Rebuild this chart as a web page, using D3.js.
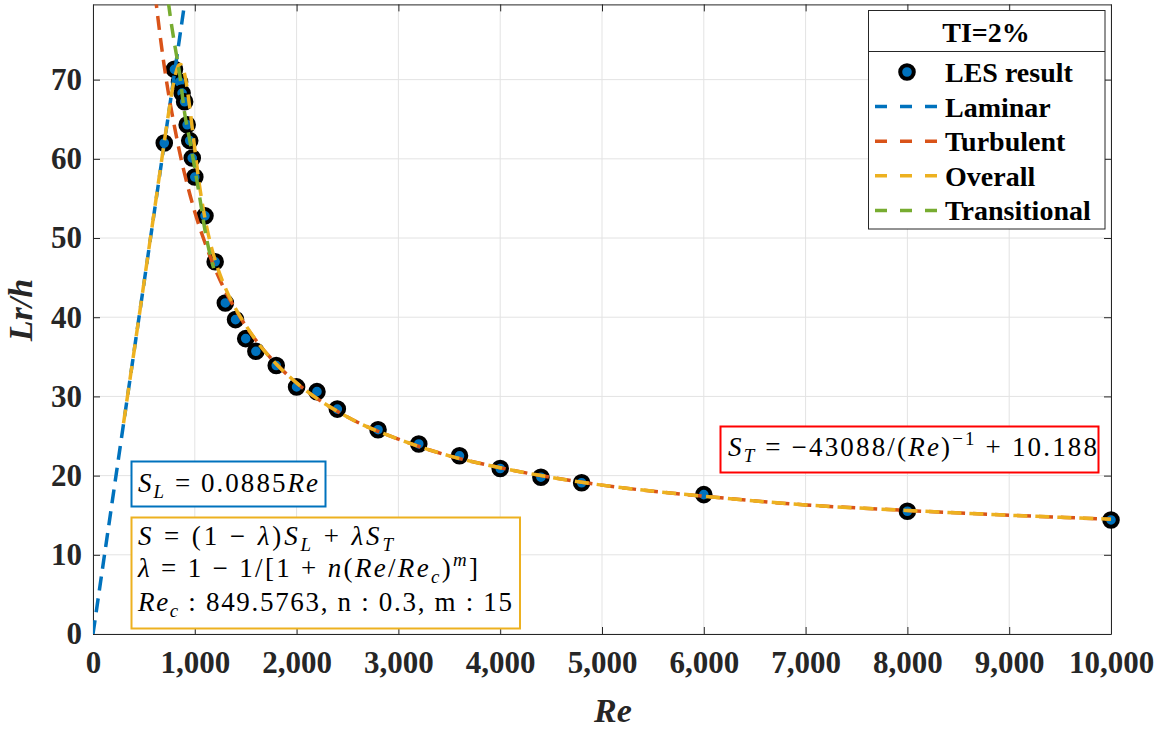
<!DOCTYPE html>
<html>
<head>
<meta charset="utf-8">
<script src="https://cdn.jsdelivr.net/npm/d3@7"></script>
<style>
body{margin:0;background:#fff}
text{white-space:pre}
</style>
</head>
<body>
<script>
// LES result points
var lesRe = [700, 800, 850, 875, 900, 925, 950, 975, 1000, 1100, 1200, 1300, 1400, 1500, 1600, 1800,
             2000, 2200, 2400, 2800, 3200, 3600, 4000, 4400, 4800, 6000, 8000, 10000];
var lesLr = [62.0, 71.3, 69.7, 68.3, 67.2, 64.3, 62.3, 60.1, 57.7, 52.8, 47.0, 41.8, 39.7, 37.3, 35.7, 33.9,
             31.2, 30.6, 28.4, 25.8, 24.0, 22.5, 20.9, 19.8, 19.1, 17.6, 15.5, 14.4];

// fitted curves
var lamRe = [0, 920];
var lamLr = [0, 81.4];

var turbRe = [610, 650, 700, 750, 800, 850, 900, 1000, 1100, 1200, 1300, 1400, 1500, 1600, 1800,
              2000, 2500, 3000, 3500, 4000, 5000, 6000, 7000, 8000, 9000, 10000];
var turbLr = [80.8, 76.5, 71.7, 67.6, 64.1, 60.9, 58.1, 53.3, 49.4, 46.1, 43.3, 41.0, 38.9, 37.1, 34.1,
              31.7, 27.4, 24.6, 22.5, 21.0, 18.8, 17.4, 16.3, 15.6, 15.0, 14.5];

var allRe = [300, 400, 600, 700, 750, 780, 800, 820, 840, 860, 880, 900, 925, 950, 975, 1000,
             1050, 1100, 1150, 1200, 1300, 1400, 1500, 1600, 1800, 2000, 2500, 3000, 3500, 4000,
             5000, 6000, 7000, 8000, 9000, 10000];
var allLr = [26.6, 35.4, 53.2, 62.1, 66.4, 68.8, 70.1, 71.1, 71.8, 71.9, 71.6, 70.7, 68.9, 66.5, 63.9, 61.2,
             56.3, 52.5, 49.5, 47.2, 43.7, 41.1, 39.0, 37.1, 34.1, 31.7, 27.4, 24.6, 22.5, 21.0,
             18.8, 17.4, 16.3, 15.6, 15.0, 14.5];

var transRe = [740, 760, 800, 850, 900, 950, 1000, 1050, 1100, 1150, 1185];
var transLr = [79.8, 77.9, 74.6, 70.8, 65.8, 62.4, 58.8, 55.0, 51.0, 47.9, 46.2];

var xTicks = [0, 1000, 2000, 3000, 4000, 5000, 6000, 7000, 8000, 9000, 10000];
var yTicks = [0, 10, 20, 30, 40, 50, 60, 70];

var legendTitle = "TI=2%";
var legendNames = ["LES result", "Laminar", "Turbulent", "Overall", "Transitional"];

// equation boxes: [text, style] where i = italic, _ = subscript, ^ = superscript
var eqLaminar = [["S","i"],["L","i_"],[" = 0.0885"],["Re","i"]];
var eqTurb = [["S","i"],["T","i_"],[" = \u221243088/("],["Re","i"],[")"],["\u22121","^"],[" + 10.188"]];
var eqAll = [
  [["S","i"],[" = (1 \u2212 "],["\u03bb","i"],[")"],["S","i"],["L","i_"],[" + "],["\u03bb","i"],["S","i"],["T","i_"]],
  [["\u03bb","i"],[" = 1 \u2212 1/[1 + "],["n","i"],["("],["Re","i"],["/"],["Re","i"],["c","i_"],[")"],["m","i^"],["]"]],
  [["Re","i"],["c","i_"],[" : 849.5763, n : 0.3, m : 15"]]
];

var cBlue = "#0072BD", cOrange = "#D95319", cYellow = "#EDB120", cGreen = "#77AC30";
var font = "'Liberation Serif', 'Times New Roman', serif";

var width = 1164, height = 730;
var svg = d3.select("body").append("svg")
    .attr("width", width).attr("height", height)
    .style("background", "#fff");

var x = d3.scaleLinear().domain([0, 10000]).range([93, 1111]);
var y = d3.scaleLinear().domain([0, 79.5]).range([634, 4.4]);

// grid
svg.append("g").selectAll("line").data(xTicks).enter().append("line")
    .attr("x1", function(d){ return x(d); }).attr("x2", function(d){ return x(d); })
    .attr("y1", y(0)).attr("y2", y(79.5))
    .attr("stroke", "#e3e3e3").attr("stroke-width", 1);
svg.append("g").selectAll("line").data(yTicks).enter().append("line")
    .attr("y1", function(d){ return y(d); }).attr("y2", function(d){ return y(d); })
    .attr("x1", x(0)).attr("x2", x(10000))
    .attr("stroke", "#e3e3e3").attr("stroke-width", 1);

// axes (ticks inside, box on)
function styleAxis(g) {
  g.select(".domain").attr("stroke", "#262626");
  g.selectAll(".tick line").attr("stroke", "#262626");
  g.selectAll("text").attr("fill", "#262626")
    .style("font-family", font).style("font-weight", "bold").style("font-size", "31px");
}
svg.append("g").attr("transform", "translate(0," + y(0) + ")")
    .call(d3.axisBottom(x).tickValues(xTicks).tickSize(-7).tickSizeOuter(0).tickPadding(17).tickFormat(d3.format(",")))
    .call(styleAxis);
svg.append("g").attr("transform", "translate(" + x(0) + ",0)")
    .call(d3.axisLeft(y).tickValues(yTicks).tickSize(-7).tickSizeOuter(0).tickPadding(11))
    .call(styleAxis);
svg.append("g").attr("transform", "translate(0," + y(79.5) + ")")
    .call(d3.axisTop(x).tickValues(xTicks).tickSize(-7).tickSizeOuter(0).tickFormat(""))
    .call(styleAxis);
svg.append("g").attr("transform", "translate(" + x(10000) + ",0)")
    .call(d3.axisRight(y).tickValues(yTicks).tickSize(-7).tickSizeOuter(0).tickFormat(""))
    .call(styleAxis);

// axis labels
svg.append("text").attr("x", 613).attr("y", 722).attr("text-anchor", "middle")
    .style("font-family", font).style("font-weight", "bold").style("font-style", "italic")
    .style("font-size", "34px").attr("fill", "#262626").text("Re");
svg.append("text").attr("transform", "translate(32,310) rotate(-90)").attr("text-anchor", "middle")
    .style("font-family", font).style("font-weight", "bold").style("font-style", "italic")
    .style("font-size", "34px").attr("fill", "#262626").text("Lr/h");

// clip for lines
svg.append("clipPath").attr("id", "plotclip").append("rect")
    .attr("x", x(0)).attr("y", y(79.5)).attr("width", x(10000) - x(0)).attr("height", y(0) - y(79.5));

// LES markers
svg.append("g").selectAll("circle").data(lesRe).enter().append("circle")
    .attr("cx", function(d){ return x(d); })
    .attr("cy", function(d, i){ return y(lesLr[i]); })
    .attr("r", 6.8)
    .attr("fill", cBlue).attr("stroke", "#000").attr("stroke-width", 4);

var dash = "14,8";
function drawLine(xs, ys, color, curve) {
  var line = d3.line()
      .x(function(d){ return x(d); })
      .y(function(d, i){ return y(ys[i]); })
      .curve(curve || d3.curveLinear);
  svg.append("path").datum(xs)
      .attr("clip-path", "url(#plotclip)")
      .attr("d", line)
      .attr("fill", "none").attr("stroke", color).attr("stroke-width", 3.5)
      .attr("stroke-dasharray", dash);
}
drawLine(lamRe, lamLr, cBlue);
drawLine(turbRe, turbLr, cOrange, d3.curveMonotoneX);
drawLine(allRe, allLr, cYellow, d3.curveMonotoneX);
drawLine(transRe, transLr, cGreen, d3.curveMonotoneX);

// equation text helper
function mathText(x0, yb, parts, size, len) {
  var t = svg.append("text").attr("x", x0).attr("y", yb)
      .style("font-family", font).style("font-size", size + "px").attr("fill", "#000");
  var shift = 0;
  parts.forEach(function(p) {
    var kind = p[1] || "";
    var s = t.append("tspan").text(p[0])
        .style("font-family", font);
    if (kind.indexOf("i") >= 0) s.style("font-style", "italic");
    var want = kind.indexOf("_") >= 0 ? 6 : (kind.indexOf("^") >= 0 ? -11 : 0);
    if (want !== shift) { s.attr("dy", want - shift); shift = want; }
    if (want !== 0) s.style("font-size", (size * 0.7) + "px");
  });
  if (len) t.attr("textLength", len).attr("lengthAdjust", "spacing");
  return t;
}

// equation boxes
svg.append("rect").attr("x", 131.5).attr("y", 461.5).attr("width", 194).attr("height", 45)
    .attr("fill", "#fff").attr("stroke", cBlue).attr("stroke-width", 2);
mathText(138, 492, eqLaminar, 27, 180);

svg.append("rect").attr("x", 131.5).attr("y", 517.5).attr("width", 388.5).attr("height", 111)
    .attr("fill", "#fff").attr("stroke", cYellow).attr("stroke-width", 2);
var eqBase = [545, 577, 611];
var eqLen = [255, 340, 374];
eqAll.forEach(function(p, i){ mathText(138, eqBase[i], p, 27, eqLen[i]); });

svg.append("rect").attr("x", 720.5).attr("y", 426.5).attr("width", 378).attr("height", 46)
    .attr("fill", "#fff").attr("stroke", "#ff0000").attr("stroke-width", 2);
mathText(728, 456, eqTurb, 27, 369);

// legend
var lg = svg.append("g");
lg.append("rect").attr("x", 868.5).attr("y", 10.5).attr("width", 236.5).attr("height", 218.5)
    .attr("fill", "#fff").attr("stroke", "#262626").attr("stroke-width", 1);
lg.append("line").attr("x1", 868.5).attr("x2", 1105).attr("y1", 51.5).attr("y2", 51.5)
    .attr("stroke", "#262626").attr("stroke-width", 1);
lg.append("text").attr("x", 986).attr("y", 42).attr("text-anchor", "middle")
    .style("font-family", font).style("font-weight", "bold").style("font-size", "28px")
    .attr("fill", "#000").text(legendTitle);
var legendColors = [cBlue, cBlue, cOrange, cYellow, cGreen];
legendNames.forEach(function(name, i) {
  var yc = 72 + i * 34.6;
  if (i === 0) {
    lg.append("circle").attr("cx", 907).attr("cy", yc).attr("r", 6.8)
      .attr("fill", cBlue).attr("stroke", "#000").attr("stroke-width", 4);
  } else {
    lg.append("line").attr("x1", 875).attr("x2", 940).attr("y1", yc).attr("y2", yc)
      .attr("stroke", legendColors[i]).attr("stroke-width", 3.5).attr("stroke-dasharray", "12,13");
  }
  lg.append("text").attr("x", 945).attr("y", yc + 10)
    .style("font-family", font).style("font-weight", "bold").style("font-size", "28px")
    .attr("fill", "#000").text(name);
});
</script>
</body>
</html>
